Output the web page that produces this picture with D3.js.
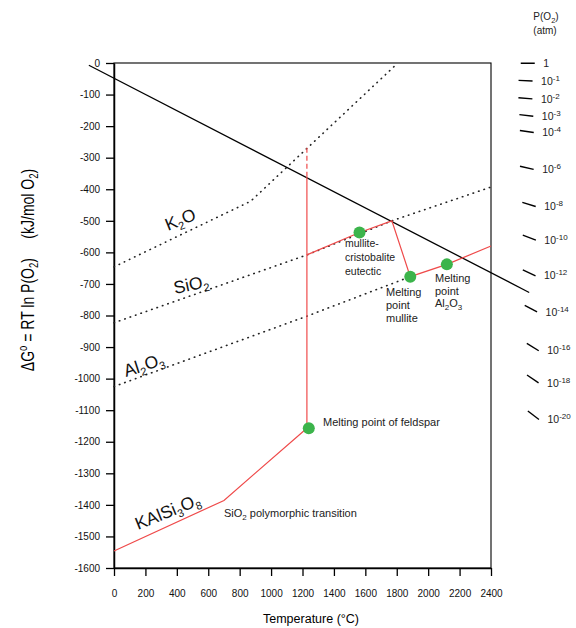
<!DOCTYPE html>
<html>
<head>
<meta charset="utf-8">
<script src="https://cdn.jsdelivr.net/npm/d3@7"></script>
<style>
  body { margin: 0; background: #fff; }
  text { font-family: "Liberation Sans", Arial, sans-serif; }
</style>
</head>
<body>
<div id="main_frame"></div>
<script>
// ---- data (T in °C, dG in kJ/mol O2) ----
var xTicks = [0, 200, 400, 600, 800, 1000, 1200, 1400, 1600, 1800, 2000, 2200, 2400];
var yTicks = [0, -100, -200, -300, -400, -500, -600, -700, -800, -900, -1000, -1100, -1200, -1300, -1400, -1500, -1600];

// oxide formation lines (dotted)
var k2oLine   = [[0, -646], [870, -438], [1790, -8]];
var sio2Line  = [[0, -823], [1228, -608], [1769, -500], [2400, -393]];
var al2o3Line = [[0, -1025], [1228, -802], [1886, -677]];

// P(O2) = 10^-12 line through the frame
var oxygenLine = [[-160, -7], [2643, -727]];

// KAlSi3O8 path (red)
var feldsparSolid  = [[0, -1546], [700, -1386], [1228, -1157]];
var feldsparRise   = [[1228, -1157], [1228, -360]];
var feldsparDashed = [[1228, -360], [1228, -262]];
var meltPath = [[1228, -608], [1563, -537], [1769, -500], [1886, -677], [2119, -638], [2400, -580]];

// green points
var pointNames = ["eutectic", "mullite", "alumina", "feldspar"];
var pointT = [1563, 1886, 2119, 1240];
var pointG = [-537, -677, -638, -1157];

// P(O2) nomographic scale on the right
var po2Exp = [0, -1, -2, -3, -4, -6, -8, -10, -12, -14, -16, -18, -20];
var po2T   = [2634, 2620, 2619, 2625, 2628, 2628, 2642, 2644, 2643, 2654, 2666, 2666, 2670];
var po2G   = [-1, -56, -112, -166, -217, -332, -448, -553, -665, -778, -900, -1001, -1116];

var width = 576;
var height = 628;
var red = "#ef4a4a";
var green = "#3cb44b";

var svg = d3.select("#main_frame")
            .append("svg")
            .attr("width", width)
            .attr("height", height)
            .style("background", "#fff");

var x = d3.scaleLinear().domain([0, 2400]).range([114, 491]);
var y = d3.scaleLinear().domain([-1600, 0]).range([568, 63]);

var line = d3.line()
             .x(function(d) { return x(d[0]); })
             .y(function(d) { return y(d[1]); });

// frame
svg.append("rect")
   .attr("x", x(0)).attr("y", y(0))
   .attr("width", x(2400) - x(0))
   .attr("height", y(-1600) - y(0))
   .attr("fill", "none")
   .attr("stroke", "#000")
   .attr("stroke-width", 1.1);

// axes
var yAxis = svg.append("g")
   .attr("transform", "translate(" + x(0) + ",0)")
   .call(d3.axisLeft(y).tickValues(yTicks).tickSize(8).tickSizeOuter(0).tickPadding(6)
           .tickFormat(function(d) { return d3.format("d")(d).replace("−", "-"); }));

var xAxis = svg.append("g")
   .attr("transform", "translate(0," + y(-1600) + ")")
   .call(d3.axisBottom(x).tickValues(xTicks).tickSize(8).tickSizeOuter(0).tickPadding(14)
           .tickFormat(d3.format("d")));

[yAxis, xAxis].forEach(function(g) {
    g.selectAll("path").attr("stroke-width", 1.5);
    g.selectAll("line").attr("stroke-width", 1.3);
    g.selectAll("text")
     .style("font-size", "10px")
     .style("font-family", "'Liberation Sans', Arial, sans-serif")
     .attr("fill", "#111");
});

// axis titles
svg.append("text")
   .attr("x", 311).attr("y", 623)
   .attr("text-anchor", "middle")
   .style("font-size", "12.5px")
   .text("Temperature (°C)");

var yTitle = svg.append("text")
   .attr("transform", "translate(34,270) rotate(-90) scale(1,1.35)")
   .attr("text-anchor", "middle")
   .style("font-size", "14px")
   .attr("xml:space", "preserve");
yTitle.append("tspan").text("ΔG");
yTitle.append("tspan").attr("dy", -5).style("font-size", "9.5px").text("o");
yTitle.append("tspan").attr("dy", 5).text(" = RT ln P(O");
yTitle.append("tspan").attr("dy", 3).style("font-size", "9.5px").text("2");
yTitle.append("tspan").attr("dy", -3).text(")     (kJ/mol O");
yTitle.append("tspan").attr("dy", 3).style("font-size", "9.5px").text("2");
yTitle.append("tspan").attr("dy", -3).text(")");

// dotted oxide lines
[k2oLine, sio2Line, al2o3Line].forEach(function(pts) {
    svg.append("path")
       .attr("d", line(pts))
       .attr("fill", "none")
       .attr("stroke", "#222")
       .attr("stroke-width", 1.6)
       .attr("stroke-linecap", "round")
       .attr("stroke-dasharray", "0.5,5.2");
});

// black P(O2) line
svg.append("path")
   .attr("d", line(oxygenLine))
   .attr("fill", "none")
   .attr("stroke", "#000")
   .attr("stroke-width", 1.3);

// red feldspar paths
[feldsparSolid, feldsparRise, meltPath].forEach(function(pts) {
    svg.append("path")
       .attr("d", line(pts))
       .attr("fill", "none")
       .attr("stroke", red)
       .attr("stroke-width", 1.2);
});
svg.append("path")
   .attr("d", line(feldsparDashed))
   .attr("fill", "none")
   .attr("stroke", red)
   .attr("stroke-width", 1.2)
   .attr("stroke-dasharray", "5,3");

// green points
svg.selectAll("circle.pt")
   .data(pointNames)
   .enter()
   .append("circle")
   .attr("class", "pt")
   .attr("cx", function(d, i) { return x(pointT[i]); })
   .attr("cy", function(d, i) { return y(pointG[i]); })
   .attr("r", 6)
   .attr("fill", green);

// oxide labels with subscripts
var addFormula = function(px, py, angle, parts) {
    var t = svg.append("text")
               .attr("transform", "translate(" + px + "," + py + ") rotate(" + angle + ")")
               .style("font-size", "17.5px")
               .attr("fill", "#111");
    var shift = 0;
    parts.forEach(function(p) {
        var sub = p[1];
        var dy = sub ? 4 - shift : -shift;
        shift = sub ? 4 : 0;
        t.append("tspan")
         .attr("dy", dy)
         .style("font-size", sub ? "11px" : "17.5px")
         .text(p[0]);
    });
};
addFormula(168, 231, -22, [["K", 0], ["2", 1], ["O", 0]]);
addFormula(175, 294, -12, [["SiO", 0], ["2", 1]]);
addFormula(126, 377, -18, [["Al", 0], ["2", 1], ["O", 0], ["3", 1]]);
addFormula(138, 530, -22, [["KAlSi", 0], ["3", 1], ["O", 0], ["8", 1]]);

// small annotations, one <text> per line, [string, isSubscript] parts
var addNote = function(px, py, lines, size, lead) {
    lines.forEach(function(l, i) {
        var t = svg.append("text")
                   .attr("x", px).attr("y", py + i * lead)
                   .style("font-size", size + "px")
                   .attr("fill", "#222");
        var shift = 0;
        l.forEach(function(p) {
            var sub = p[1];
            t.append("tspan")
             .attr("dy", (sub ? 3 : 0) - shift)
             .style("font-size", sub ? (size - 3) + "px" : size + "px")
             .text(p[0]);
            shift = sub ? 3 : 0;
        });
    });
};
addNote(345, 247, [[["mullite-", 0]], [["cristobalite", 0]], [["eutectic", 0]]], 10.5, 14);
addNote(386, 296, [[["Melting", 0]], [["point", 0]], [["mullite", 0]]], 11, 13);
addNote(435, 282, [[["Melting", 0]], [["point", 0]], [["Al", 0], ["2", 1], ["O", 0], ["3", 1]]], 11, 12.5);
addNote(323, 426, [[["Melting point of feldspar", 0]]], 11, 13);
addNote(224, 517, [[["SiO", 0], ["2", 1], [" polymorphic transition", 0]]], 11, 13);

// P(O2) scale: short segments pointing back to 0 K, dG = 0
var origin = [x(-273), y(0)];
var scaleG = svg.append("g");
po2Exp.forEach(function(e, i) {
    var cx = x(po2T[i]), cy = y(po2G[i]);
    var dx = cx - origin[0], dy = cy - origin[1];
    var len = Math.sqrt(dx * dx + dy * dy);
    var ux = dx / len * 7, uy = dy / len * 7;
    scaleG.append("line")
          .attr("x1", cx - ux).attr("y1", cy - uy)
          .attr("x2", cx + ux).attr("y2", cy + uy)
          .attr("stroke", "#000")
          .attr("stroke-width", 1.4);
    var lab = scaleG.append("text")
          .attr("x", cx + ux + 8.5)
          .attr("y", cy + uy)
          .attr("dy", "0.35em")
          .style("font-size", "10.5px")
          .attr("fill", "#222");
    if (e === 0) {
        lab.text("1");
    } else {
        lab.append("tspan").text("10");
        lab.append("tspan").attr("dy", -4).style("font-size", "8px").text("-" + (-e));
    }
});

// scale header
var hdr = svg.append("text")
   .attr("x", 546).attr("y", 20)
   .attr("text-anchor", "middle")
   .style("font-size", "10px")
   .attr("fill", "#222");
hdr.append("tspan").text("P(O");
hdr.append("tspan").attr("dy", 3).style("font-size", "7.5px").text("2");
hdr.append("tspan").attr("dy", -3).text(")");
svg.append("text")
   .attr("x", 545).attr("y", 34)
   .attr("text-anchor", "middle")
   .style("font-size", "10px")
   .attr("fill", "#222")
   .text("(atm)");
</script>
</body>
</html>
